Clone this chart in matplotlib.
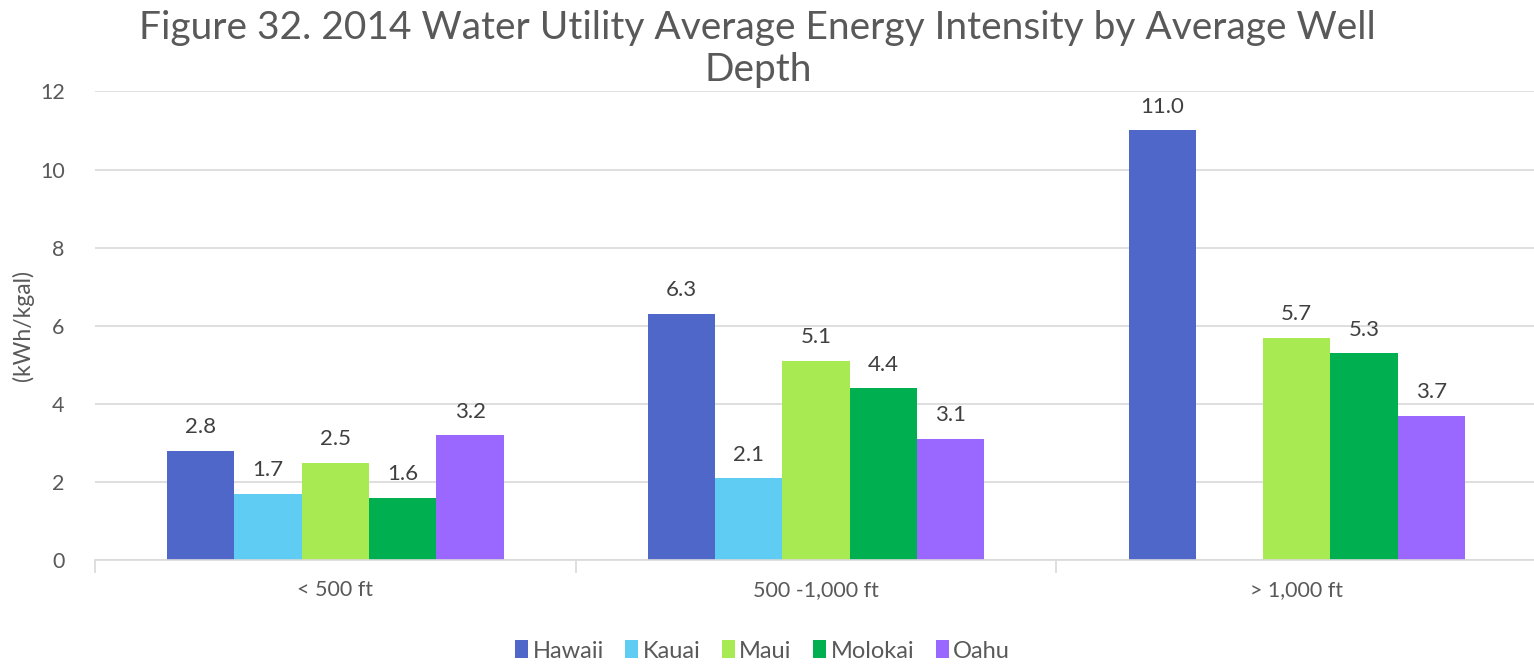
import numpy as np
import matplotlib.pyplot as plt
from matplotlib.ticker import FixedLocator

# chart data
categories = ["< 500 ft", "500 -1,000 ft", "> 1,000 ft"]
islands = ["Hawaii", "Kauai", "Maui", "Molokai", "Oahu"]
hawaii = [2.8, 6.3, 11.0]
kauai = [1.7, 2.1, np.nan]
maui = [2.5, 5.1, 5.7]
molokai = [1.6, 4.4, 5.3]
oahu = [3.2, 3.1, 3.7]
yticks = [0, 2, 4, 6, 8, 10, 12]

colors = ["#4F67C8", "#5FCCF3", "#A8EA52", "#00AF4F", "#9A67FF"]
text_color = "#595959"
grid_color = "#D9D9D9"

plt.rcParams["font.family"] = ["Lato", "DejaVu Sans"]

fig = plt.figure(figsize=(15.34, 6.67), dpi=100)
ax = fig.add_axes([0.062, 0.160, 0.940, 0.703])

series = [hawaii, kauai, maui, molokai, oahu]
x = np.arange(len(categories))
width = 0.14
for i, (name, vals, c) in enumerate(zip(islands, series, colors)):
    pos = x + (i - 2) * width
    ax.bar(pos, vals, width, color=c, label=name, zorder=3)
    for xp, v in zip(pos, vals):
        if np.isnan(v):
            continue
        ax.text(xp, v + 0.35, f"{v:.1f}", ha="center", va="bottom",
                fontsize=16, color="#404040")

ax.set_xlim(-0.5, 2.5)
ax.set_ylim(0, 12)
ax.set_yticks(yticks)
ax.set_xticks(x)
ax.set_xticklabels(categories)
ax.xaxis.set_minor_locator(FixedLocator([-0.5, 0.5, 1.5, 2.5]))
ax.tick_params(axis="x", which="major", length=0, pad=14, labelsize=15.5, labelcolor=text_color)
ax.tick_params(axis="x", which="minor", length=9, color=grid_color, width=1.2)
ax.tick_params(axis="y", length=0, pad=22, labelsize=15.5, labelcolor=text_color)

ax.grid(axis="y", color=grid_color, linewidth=1.2, zorder=0)
for s in ["top", "right", "left"]:
    ax.spines[s].set_visible(False)
ax.spines["bottom"].set_color(grid_color)
ax.spines["bottom"].set_linewidth(1.2)
ax.spines["bottom"].set_zorder(4)

fig.text(0.015, 0.512, "(kWh/kgal)", rotation=90, ha="center", va="center",
         fontsize=16.5, color=text_color)

fig.text(0.494, 0.985,
         "Figure 32. 2014 Water Utility Average Energy Intensity by Average Well\nDepth",
         ha="center", va="top", fontsize=28, color=text_color, linespacing=1.2)

handles, labels = ax.get_legend_handles_labels()
fig.legend(handles, labels, loc="center", bbox_to_anchor=(0.497, 0.024), ncol=5,
           frameon=False, fontsize=17, handlelength=0.55, handleheight=0.8,
           handletextpad=0.2, columnspacing=0.9, labelcolor=text_color,
           borderpad=0, borderaxespad=0)

fig.savefig("out.png", dpi=100)
